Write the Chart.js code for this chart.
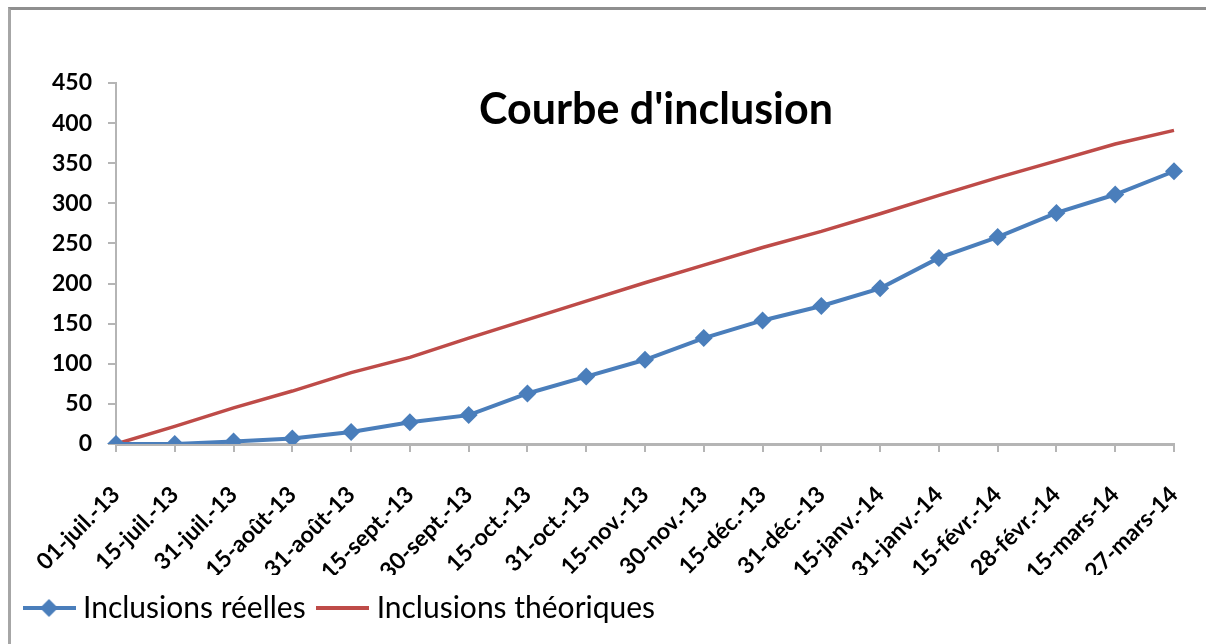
<!DOCTYPE html>
<html>
<head>
<meta charset="utf-8">
<script src="https://cdn.jsdelivr.net/npm/chart.js@4"></script>
<style>
  html, body { margin: 0; padding: 0; background: #fff; }
  #wrap { position: relative; width: 1206px; height: 644px; overflow: hidden; }
  #frame { position: absolute; left: 8px; top: 7px; width: 1220px; height: 660px;
           border-left: 3px solid #a6a6a6; border-top: 3px solid #8f8f8f; box-sizing: border-box; }
  canvas { position: absolute; left: 0; top: 0; }
</style>
</head>
<body>
<div id="wrap">
  <div id="frame"></div>
  <canvas id="c" width="1206" height="644"></canvas>
</div>
<script>
const chartTitle = "Courbe d'inclusion";
const categories = ["01-juil.-13","15-juil.-13","31-juil.-13","15-août-13","31-août-13","15-sept.-13","30-sept.-13","15-oct.-13","31-oct.-13","15-nov.-13","30-nov.-13","15-déc.-13","31-déc.-13","15-janv.-14","31-janv.-14","15-févr.-14","28-févr.-14","15-mars-14","27-mars-14"];
const inclusionsReelles = [0, 0, 3, 7, 15, 27, 36, 63, 84, 105, 132, 154, 172, 194, 232, 258, 288, 311, 340];
const inclusionsTheoriques = [0, 22, 45, 66, 89, 108, 132, 155, 178, 201, 223, 245, 265, 287, 310, 332, 353, 374, 391];
const yTicks = [0, 50, 100, 150, 200, 250, 300, 350, 400, 450];

const BLUE = '#4a7ebb';
const RED = '#be4b48';
const FONT = 'Lato, "Open Sans", sans-serif';

function legendImg(color, diamond) {
  const cv = document.createElement('canvas');
  cv.width = 53; cv.height = 22;
  const g = cv.getContext('2d');
  g.strokeStyle = color; g.lineWidth = 4;
  g.beginPath(); g.moveTo(0, 11); g.lineTo(53, 11); g.stroke();
  if (diamond) {
    g.fillStyle = color;
    g.beginPath(); g.moveTo(26.5, 2); g.lineTo(35.5, 11); g.lineTo(26.5, 20); g.lineTo(17.5, 11); g.closePath(); g.fill();
  }
  return cv;
}
const legendImgs = [legendImg(BLUE, true), legendImg(RED, false)];

const titlePlugin = {
  id: 'innerTitle',
  afterDraw(chart) {
    const { ctx, chartArea } = chart;
    ctx.save();
    ctx.font = 'bold 43px ' + FONT;
    ctx.fillStyle = '#000';
    ctx.textAlign = 'center';
    ctx.textBaseline = 'middle';
    ctx.fillText(chartTitle, chartArea.left + chartArea.width / 2 + 11, chartArea.top + 27);
    ctx.restore();
  }
};

new Chart(document.getElementById('c'), {
  type: 'line',
  data: {
    labels: categories,
    datasets: [
      {
        label: 'Inclusions réelles',
        data: inclusionsReelles,
        borderColor: BLUE,
        backgroundColor: BLUE,
        borderWidth: 4,
        pointStyle: 'rectRot',
        pointRadius: 9,
        pointBorderWidth: 0,
        pointBackgroundColor: BLUE,
        tension: 0
      },
      {
        label: 'Inclusions théoriques',
        data: inclusionsTheoriques,
        borderColor: RED,
        backgroundColor: RED,
        borderWidth: 3.5,
        pointRadius: 0,
        tension: 0
      }
    ]
  },
  options: {
    responsive: false,
    animation: false,
    layout: { padding: { left: 12, right: 32, top: 83, bottom: 11 } },
    plugins: {
      tooltip: { enabled: false },
      title: { display: false },
      legend: {
        position: 'bottom',
        align: 'start',
        labels: {
          usePointStyle: true,
          pointStyleWidth: 38,
          padding: 18,
          color: '#000',
          font: { family: FONT, size: 30 },
          generateLabels(chart) {
            const items = Chart.defaults.plugins.legend.labels.generateLabels(chart);
            items.forEach((it, i) => { it.pointStyle = legendImgs[i]; });
            return items;
          }
        }
      }
    },
    scales: {
      x: {
        type: 'category',
        offset: false,
        grid: { display: true, drawOnChartArea: false, drawTicks: true, tickLength: 8, color: '#b5b5b5', lineWidth: 2 },
        border: { display: true, color: '#b5b5b5', width: 3 },
        ticks: {
          autoSkip: false,
          maxRotation: 45,
          minRotation: 45,
          padding: 29,
          color: '#000',
          font: { family: FONT, size: 23, weight: 'bold' }
        },
        afterFit(scale) { scale.height = 131; scale.paddingLeft = 0; scale.paddingRight = 0; }
      },
      y: {
        min: 0,
        max: 450,
        afterBuildTicks(scale) { scale.ticks = yTicks.map(v => ({ value: v })); },
        grid: { display: true, drawOnChartArea: false, drawTicks: true, tickLength: 8, color: '#b5b5b5', lineWidth: 2 },
        border: { display: true, color: '#b5b5b5', width: 2 },
        ticks: {
          padding: 16,
          color: '#000',
          font: { family: FONT, size: 23, weight: 'bold' }
        },
        afterFit(scale) { scale.width = 104; scale.paddingTop = 0; scale.paddingBottom = 0; }
      }
    }
  },
  plugins: [titlePlugin]
});
</script>
</body>
</html>
